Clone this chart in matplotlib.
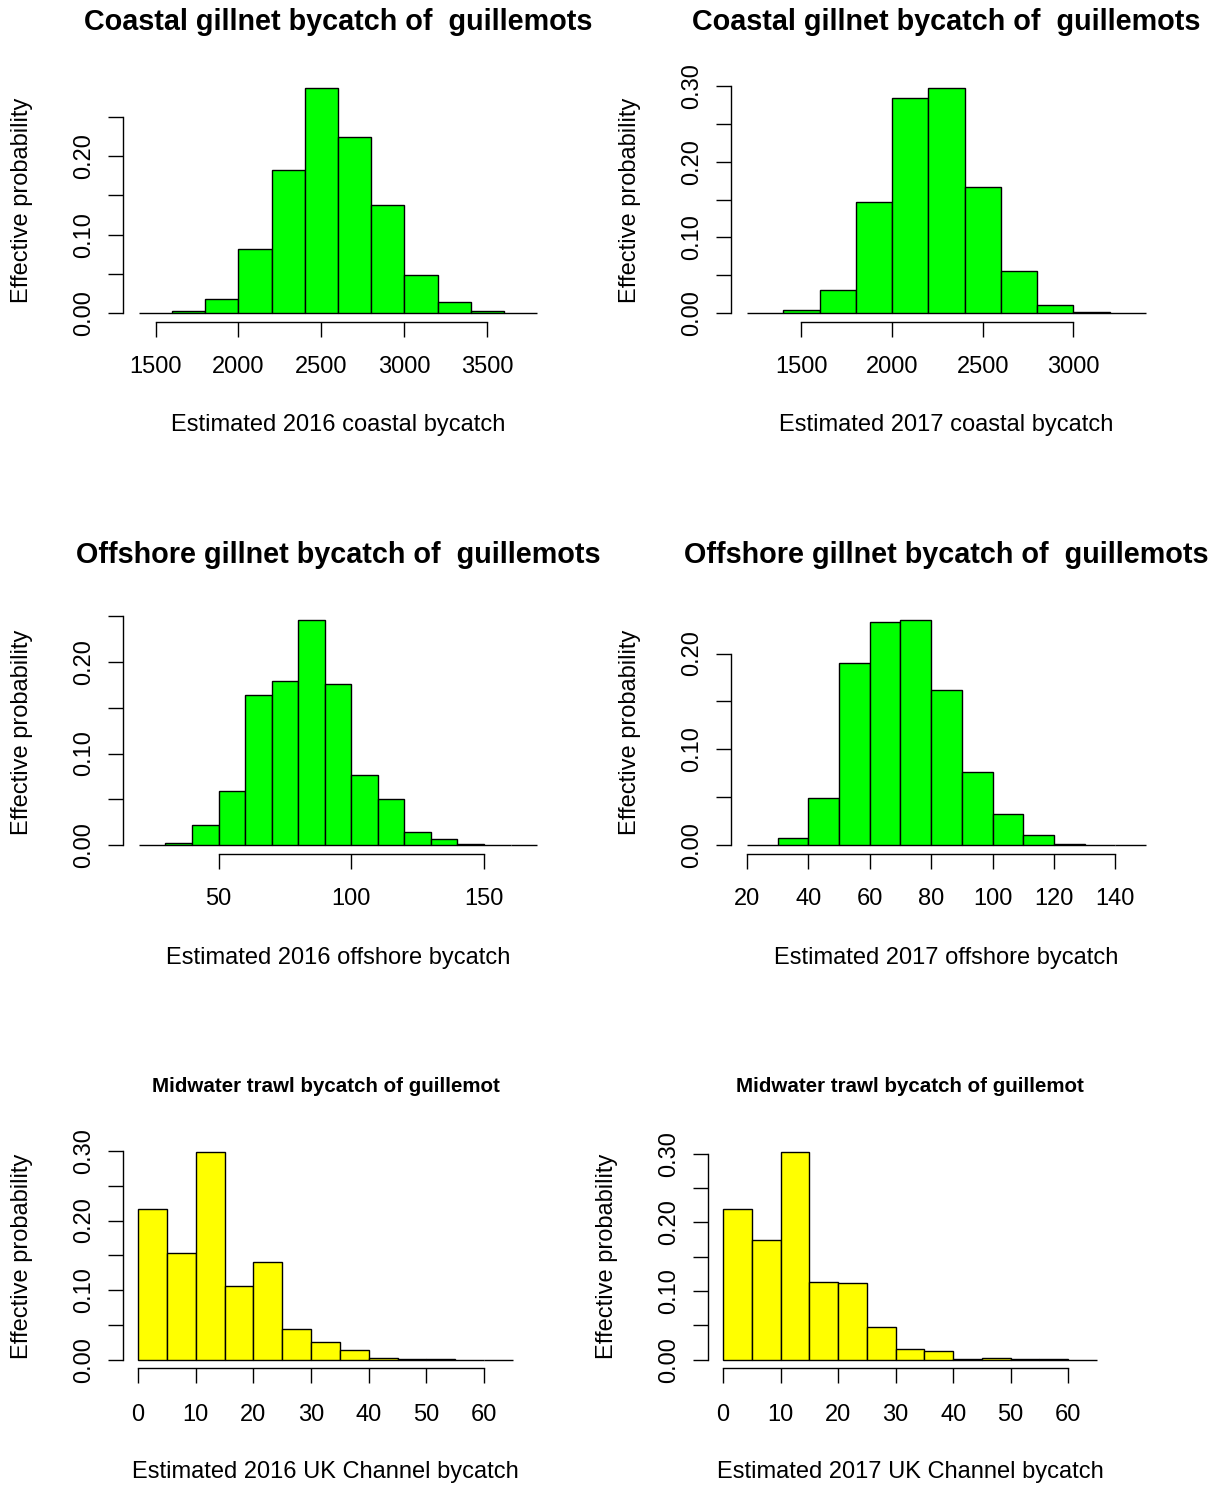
import numpy as np
import matplotlib
matplotlib.use('Agg')
from matplotlib import pyplot as plt

W, H = 1221, 1485
DPI = 100

# bin edges and heights
coastal16_edges = np.arange(1400, 3801, 200)
coastal16_probs = [0.0004, 0.002, 0.018, 0.082, 0.183, 0.287, 0.225, 0.138, 0.049, 0.014, 0.003, 0.0003]

coastal17_edges = np.arange(1200, 3401, 200)
coastal17_probs = [0.0002, 0.0035, 0.031, 0.147, 0.285, 0.298, 0.167, 0.055, 0.011, 0.001, 0.0002]

offshore16_edges = np.arange(20, 171, 10)
offshore16_probs = [0.0002, 0.0026, 0.022, 0.059, 0.164, 0.179, 0.246, 0.176, 0.0765, 0.050, 0.014,
                    0.0066, 0.0015, 0.0004, 0.0001]

offshore17_edges = np.arange(20, 151, 10)
offshore17_probs = [0.0005, 0.0077, 0.049, 0.190, 0.233, 0.235, 0.162, 0.0767, 0.032, 0.0105, 0.0014,
                    0.0003, 0.0001]

channel16_edges = np.arange(0, 66, 5)
channel16_probs = [0.216, 0.154, 0.298, 0.106, 0.141, 0.0435, 0.025, 0.0134, 0.002, 0.0014, 0.0003,
                   0.0001, 0.0001]

channel17_edges = np.arange(0, 66, 5)
channel17_probs = [0.219, 0.174, 0.302, 0.1126, 0.111, 0.047, 0.015, 0.013, 0.0015, 0.002, 0.001,
                   0.0003, 0.0001]

coastal16_xticks = [1500, 2000, 2500, 3000, 3500]
coastal17_xticks = [1500, 2000, 2500, 3000]
offshore16_xticks = [50, 100, 150]
offshore17_xticks = [20, 40, 60, 80, 100, 120, 140]
channel_xticks = [0, 10, 20, 30, 40, 50, 60]

TITLE_COASTAL = 'Coastal gillnet bycatch of  guillemots'
TITLE_OFFSHORE = 'Offshore gillnet bycatch of  guillemots'
TITLE_CHANNEL = 'Midwater trawl bycatch of guillemot'

plt.rcParams['font.family'] = ['Liberation Sans', 'DejaVu Sans']

fig = plt.figure(figsize=(W / DPI, H / DPI), dpi=DPI)


def panel(box, edges, probs, xticks, ymax_tick, color, title, title_size, title_y,
          xlabel, xlabel_y, ylabel_x, xpad):
    left, right, top, bottom = box
    ax = fig.add_axes([left / W, 1 - bottom / H, (right - left) / W, (bottom - top) / H])
    edges = np.asarray(edges)
    ax.bar(edges[:-1], probs, width=np.diff(edges), align='edge', color=color,
           edgecolor='black', linewidth=1.0)
    xr = edges[-1] - edges[0]
    ax.set_xlim(edges[0] - 0.04 * xr, edges[-1] + 0.04 * xr)
    pmax = max(probs)
    ax.set_ylim(-0.04 * pmax, 1.04 * pmax)

    for s in ['top', 'right']:
        ax.spines[s].set_visible(False)
    for s in ['left', 'bottom']:
        ax.spines[s].set_linewidth(1.0)
    ax.spines['bottom'].set_bounds(xticks[0], xticks[-1])
    yticks = np.round(np.arange(0, ymax_tick + 1e-9, 0.05), 2)
    ax.spines['left'].set_bounds(0, yticks[-1])

    ax.set_xticks(xticks)
    ax.set_xticklabels([str(t) for t in xticks])
    ax.set_yticks(yticks)
    ax.set_yticklabels(['{:.2f}'.format(t) if round(t * 100) % 10 == 0 else '' for t in yticks])
    ax.tick_params(length=10.8, width=1.0, labelsize=17)
    ax.tick_params(axis='x', pad=xpad)
    ax.tick_params(axis='y', pad=9)
    for lab in ax.get_yticklabels():
        lab.set_rotation(90)
        lab.set_va('center')

    fig.text((left + right) / 2 / W, 1 - title_y / H, title, ha='center', va='center',
             fontsize=title_size, fontweight='bold')
    fig.text((left + right) / 2 / W, 1 - xlabel_y / H, xlabel, ha='center', va='center', fontsize=17)
    fig.text(ylabel_x / W, 1 - (top + bottom) / 2 / H, 'Effective probability', ha='center',
             va='center', rotation=90, fontsize=17)
    return ax


green = '#00ff00'
yellow = '#ffff00'

panel((123, 553, 79, 322), coastal16_edges, coastal16_probs, coastal16_xticks, 0.25, green,
      TITLE_COASTAL, 20.7, 22, 'Estimated 2016 coastal bycatch', 425, 22, 13.5)
panel((731, 1162, 79, 322), coastal17_edges, coastal17_probs, coastal17_xticks, 0.30, green,
      TITLE_COASTAL, 20.7, 22, 'Estimated 2017 coastal bycatch', 425, 630, 13.5)
panel((123, 553, 611, 854), offshore16_edges, offshore16_probs, offshore16_xticks, 0.25, green,
      TITLE_OFFSHORE, 20.7, 555, 'Estimated 2016 offshore bycatch', 958, 22, 13.5)
panel((731, 1162, 611, 854), offshore17_edges, offshore17_probs, offshore17_xticks, 0.20, green,
      TITLE_OFFSHORE, 20.7, 555, 'Estimated 2017 offshore bycatch', 958, 630, 13.5)
panel((123, 528, 1144, 1368), channel16_edges, channel16_probs, channel_xticks, 0.30, yellow,
      TITLE_CHANNEL, 14.8, 1087, 'Estimated 2016 UK Channel bycatch', 1472, 22, 15)
panel((708, 1112, 1144, 1368), channel17_edges, channel17_probs, channel_xticks, 0.30, yellow,
      TITLE_CHANNEL, 14.8, 1087, 'Estimated 2017 UK Channel bycatch', 1472, 607, 15)

fig.savefig('out.png', dpi=DPI)
